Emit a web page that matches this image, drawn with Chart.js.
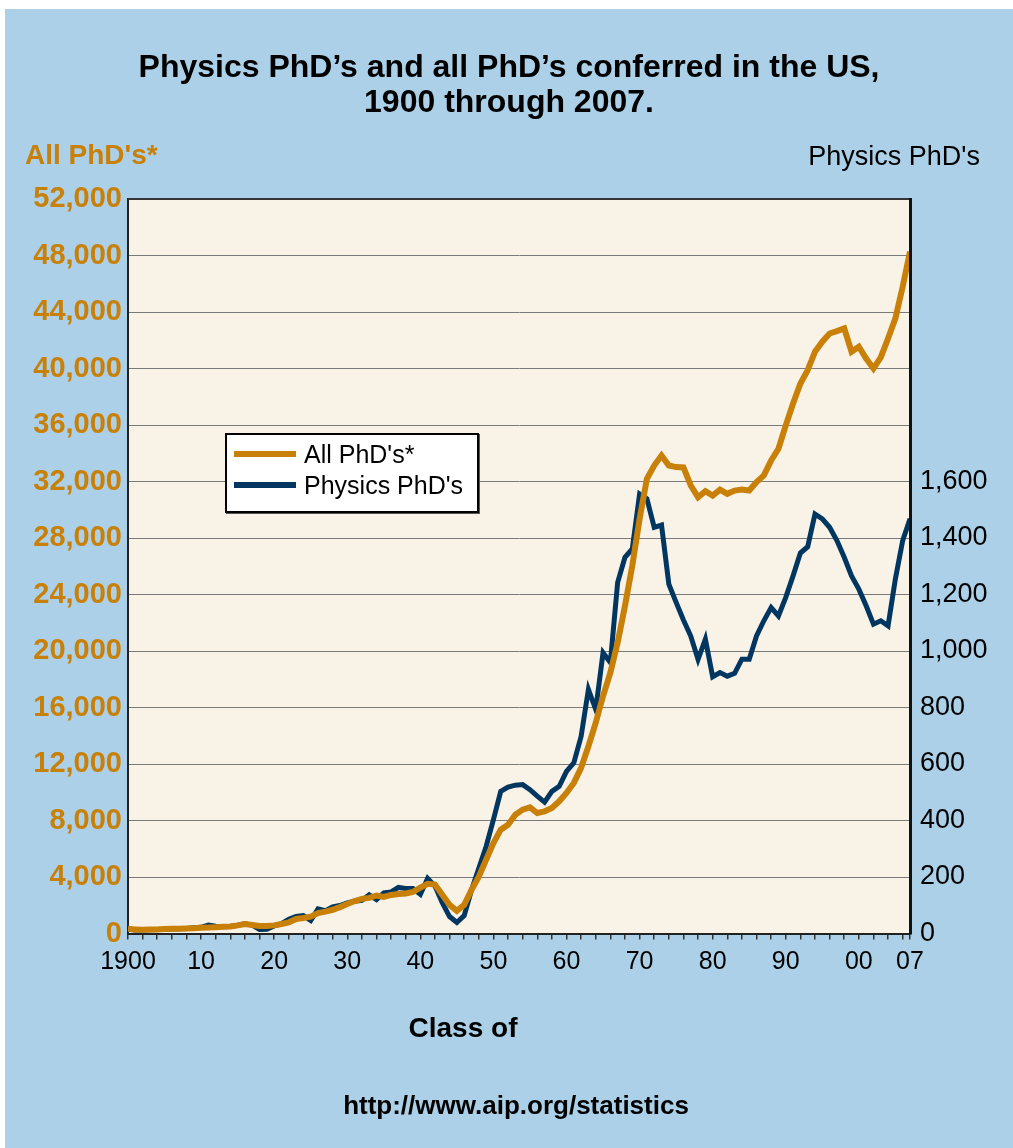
<!DOCTYPE html>
<html>
<head>
<meta charset="utf-8">
<title>Physics PhD's and all PhD's conferred in the US</title>
<script src="https://cdn.jsdelivr.net/npm/chart.js@4.4.1/dist/chart.umd.min.js"></script>
<style>
  html, body { margin: 0; padding: 0; background: #fff; }
  #panel { position: absolute; left: 5px; top: 9px; width: 1008px; height: 1139px; background: #abd0e7; }
  #legendBox {
    position: absolute; left: 220px; top: 424px; width: 254px; height: 80px;
    box-sizing: border-box; border: 2px solid #000; background: #fff;
    box-shadow: 1px 1px 0 #555;
    font-family: "Liberation Sans", Arial, sans-serif; font-size: 25px; color: #000;
  }
  .legRow { position: absolute; left: 0; height: 30px; width: 100%; }
  .legLine { position: absolute; left: 7px; width: 62px; height: 6px; top: 12px; }
  .legText { position: absolute; left: 77px; top: 0; line-height: 30px; white-space: nowrap; }
</style>
</head>
<body>
<div id="panel">
  <canvas id="phdChart"></canvas>
  <div id="legendBox"></div>
</div>
<script>
// Colours
const orange = '#c88008';
const navy = '#003660';
const fontFamily = '"Liberation Sans", Arial, sans-serif';

// Class years 1900..2007
const years = Array.from({length: 108}, (_, i) => 1900 + i);

// All PhD's conferred (left axis)
const allPhds = [
  330, 290, 260, 280, 290, 310, 330, 330, 360, 380,          // 1900-1909
  400, 430, 450, 470, 500, 575, 670, 600, 525, 525,          // 1910-1919
  575, 670, 790, 1030, 1100, 1190, 1440, 1550, 1680, 1870,   // 1920-1929
  2090, 2300, 2450, 2520, 2680, 2590, 2730, 2800, 2830, 2950, // 1930-1939
  3240, 3520, 3470, 2750, 2030, 1600, 2030, 3090, 4030, 5220, // 1940-1949
  6400, 7350, 7700, 8410, 8770, 8930, 8530, 8650, 8890, 9360, // 1950-1959
  9950, 10660, 11730, 13260, 14920, 16810, 18470, 20600, 23200, 26040, // 1960-1969
  29350, 32190, 33130, 33840, 33130, 33020, 33000, 31720, 30890, 31320, // 1970-1979
  31010, 31430, 31130, 31360, 31430, 31360, 31960, 32430, 33490, 34320, // 1980-1989
  35980, 37520, 38940, 39880, 41190, 41900, 42480, 42650, 42840, 41190, // 1990-1999
  41540, 40710, 40000, 40790, 42130, 43550, 45790, 48280     // 2000-2007
];

// Physics PhD's (right axis)
const physicsPhds = [
  15, 12, 12, 13, 14, 15, 16, 17, 18, 20,                    // 1900-1909
  22, 30, 26, 24, 25, 29, 34, 30, 14, 15,                    // 1910-1919
  27, 35, 50, 60, 63, 46, 87, 81, 94, 99,                    // 1920-1929
  108, 114, 117, 137, 120, 144, 147, 163, 159, 159,          // 1930-1939
  139, 195, 168, 109, 60, 39, 63, 154, 231, 308,             // 1940-1949
  403, 503, 518, 525, 527, 509, 486, 465, 503, 521,          // 1950-1959
  574, 604, 698, 864, 793, 994, 959, 1243, 1332, 1361,       // 1960-1969
  1556, 1539, 1438, 1446, 1237, 1172, 1110, 1053, 970, 1042, // 1970-1979
  909, 924, 911, 921, 971, 971, 1053, 1107, 1154, 1124,      // 1980-1989
  1190, 1266, 1347, 1369, 1485, 1468, 1438, 1391, 1332, 1266, // 1990-1999
  1219, 1160, 1095, 1107, 1089, 1255, 1391, 1468             // 2000-2007
];

// x axis labels
const labelYears = [1900, 1910, 1920, 1930, 1940, 1950, 1960, 1970, 1980, 1990, 2000, 2007];
const labelText = ['1900', '10', '20', '30', '40', '50', '60', '70', '80', '90', '00', '07'];

const chartTitle = ['Physics PhD\u2019s and all PhD\u2019s conferred in the US,', '1900 through 2007.'];

// plot background, right border, axis headers and the texts under the chart
const chartFrame = {
  id: 'chartFrame',
  beforeDraw(chart) {
    const {ctx, chartArea: a} = chart;
    ctx.save();
    ctx.fillStyle = '#f8f2e7';
    ctx.fillRect(a.left, a.top, a.right - a.left, a.bottom - a.top);
    ctx.restore();
  },
  afterDatasetsDraw(chart) {
    const {ctx, chartArea: a} = chart;
    ctx.save();
    ctx.strokeStyle = '#333';
    ctx.lineWidth = 2;
    ctx.beginPath();
    ctx.moveTo(a.left, a.top);
    ctx.lineTo(a.right, a.top);
    ctx.stroke();
    ctx.strokeStyle = '#111';
    ctx.lineWidth = 3;
    ctx.beginPath();
    ctx.moveTo(a.right + 0.5, a.top - 1);
    ctx.lineTo(a.right + 0.5, a.bottom + 1);
    ctx.stroke();

    ctx.textBaseline = 'middle';
    ctx.font = 'bold 28px ' + fontFamily;
    ctx.fillStyle = orange;
    ctx.textAlign = 'left';
    ctx.fillText("All PhD's*", 20, 147);
    ctx.font = '27px ' + fontFamily;
    ctx.fillStyle = '#000';
    ctx.textAlign = 'right';
    ctx.fillText("Physics PhD's", 975, 149);

    ctx.textAlign = 'center';
    ctx.font = 'bold 28px ' + fontFamily;
    ctx.fillText('Class of', 458, 1020);
    ctx.font = 'bold 26px ' + fontFamily;
    ctx.fillText('http://www.aip.org/statistics', 511, 1098);
    ctx.restore();
  }
};

const ctx = document.getElementById('phdChart').getContext('2d');

const chart = new Chart(ctx, {
  type: 'line',
  data: {
    datasets: [
      {
        label: "All PhD's*",
        data: years.map((yr, i) => ({x: yr, y: allPhds[i]})),
        borderColor: orange,
        backgroundColor: orange,
        borderWidth: 6,
        pointRadius: 0,
        tension: 0,
        yAxisID: 'y'
      },
      {
        label: "Physics PhD's",
        data: years.map((yr, i) => ({x: yr, y: physicsPhds[i]})),
        borderColor: navy,
        backgroundColor: navy,
        borderWidth: 5,
        pointRadius: 0,
        tension: 0,
        yAxisID: 'y1'
      }
    ]
  },
  options: {
    responsive: true,
    maintainAspectRatio: false,
    animation: false,
    layout: { padding: 0 },
    plugins: {
      legend: { display: false },
      tooltip: { enabled: false },
      title: {
        display: true,
        text: chartTitle,
        color: '#000',
        font: { family: fontFamily, size: 32, weight: 'bold', lineHeight: 1.094 },
        padding: { top: 41.5, bottom: 78.5 }
      }
    },
    scales: {
      x: {
        type: 'linear',
        min: 1900,
        max: 2007,
        afterBuildTicks(scale) {
          const t = [];
          for (let yr = 1900; yr <= 2006; yr += 2) t.push({value: yr});
          t.push({value: 2007});
          scale.ticks = t;
        },
        afterFit(scale) { scale.height = 214.5; },
        ticks: {
          autoSkip: false,
          maxRotation: 0,
          padding: 8,
          color: '#000',
          font: { family: fontFamily, size: 25 },
          callback: v => {
            const k = labelYears.indexOf(v);
            return k >= 0 ? labelText[k] : '';
          }
        },
        grid: { display: true, drawOnChartArea: false, drawTicks: true, tickLength: 6, color: '#333', lineWidth: 1.5 },
        border: { display: true, color: '#222', width: 2 }
      },
      y: {
        position: 'left',
        min: 0,
        max: 52000,
        afterFit(scale) { scale.width = 123; },
        ticks: {
          stepSize: 4000,
          padding: 6,
          color: orange,
          font: { family: fontFamily, size: 29, weight: 'bold' },
          callback: v => v.toLocaleString('en-US')
        },
        grid: { color: '#7a7a7a', lineWidth: 1, drawTicks: false },
        border: { display: true, color: '#222', width: 2 }
      },
      y1: {
        position: 'right',
        min: 0,
        max: 2600,
        afterFit(scale) { scale.width = 103; },
        ticks: {
          stepSize: 200,
          padding: 10,
          color: '#000',
          font: { family: fontFamily, size: 27 },
          callback: v => (v <= 1600 ? v.toLocaleString('en-US') : '')
        },
        grid: { display: false, drawTicks: false },
        border: { display: false }
      }
    }
  },
  plugins: [chartFrame]
});

// legend box inside the plot, built from the datasets
const legendBox = document.getElementById('legendBox');
chart.data.datasets.forEach((ds, i) => {
  const row = document.createElement('div');
  row.className = 'legRow';
  row.style.top = (4 + i * 31) + 'px';
  const line = document.createElement('div');
  line.className = 'legLine';
  line.style.background = ds.borderColor;
  const txt = document.createElement('div');
  txt.className = 'legText';
  txt.textContent = ds.label;
  row.appendChild(line);
  row.appendChild(txt);
  legendBox.appendChild(row);
});
</script>
</body>
</html>
